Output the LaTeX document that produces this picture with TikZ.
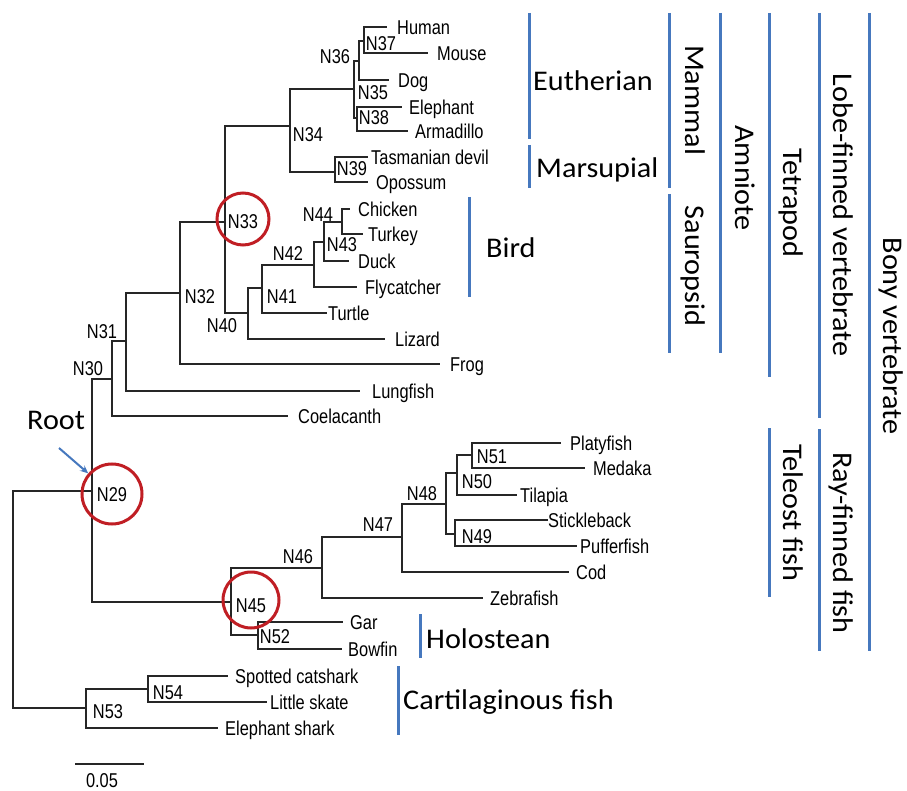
\documentclass[tikz,border=0pt]{standalone}
\usepackage{fontspec}
\usepackage{xcolor}
\usepackage{tikz}
\usetikzlibrary{arrows.meta}
\newfontfamily\leaffont[FakeStretch=0.82]{Liberation Sans}
\newfontfamily\cladefont[FakeStretch=1.06]{Carlito}
\definecolor{cladeblue}{RGB}{70,120,190}
\definecolor{hlred}{RGB}{192,30,36}

\begin{document}
\begin{tikzpicture}[x=1pt, y=-1pt,
    branch/.style={line width=1.2pt, draw=black!85},
    leaf/.style={anchor=west, inner sep=0pt, inner xsep=7pt, text height=14.3pt, text depth=0pt,
        font=\leaffont\fontsize{20}{22}\selectfont},
    nlab/.style={inner sep=0pt, text height=14.3pt, text depth=0pt, font=\leaffont\fontsize{20}{22}\selectfont},
    clade/.style={anchor=west, inner sep=0pt, text height=18.4pt, text depth=0pt,
        font=\cladefont\fontsize{28.5}{30}\selectfont},
    vclade/.style={clade, anchor=center, rotate=-90},
    bar/.style={line width=3pt, draw=cladeblue},
    hl/.style={circle, draw=hlred, line width=3pt, inner sep=0pt}]

    \useasboundingbox (0,0) rectangle (907,791);

    % internal nodes
    \coordinate (n0) at (13,600);
    \coordinate (n29) at (92,491);
    \coordinate (n30) at (112,379);
    \coordinate (n31) at (126,341);
    \coordinate (n32) at (180,293);
    \coordinate (n33) at (225,222);
    \coordinate (n34) at (290,126);
    \coordinate (n36) at (354,89);
    \coordinate (n35) at (359,61);
    \coordinate (n37) at (364,41);
    \coordinate (n38) at (357,118);
    \coordinate (n39) at (335,172);
    \coordinate (n40) at (248,313);
    \coordinate (n41) at (262,288);
    \coordinate (n42) at (314,265);
    \coordinate (n43) at (324,242);
    \coordinate (n44) at (342,222);
    \coordinate (n45) at (231,602);
    \coordinate (n46) at (322,568);
    \coordinate (n47) at (402,537);
    \coordinate (n48) at (446,504);
    \coordinate (n50) at (457,473);
    \coordinate (n51) at (472,455);
    \coordinate (n49) at (455,534);
    \coordinate (n52) at (258,635);
    \coordinate (n53) at (86,708);
    \coordinate (n54) at (148,689);

    % leaves
    \node [leaf, inner xsep=10pt] (human) at (387,27) {Human};
    \node [leaf, inner xsep=9pt] (mouse) at (428,53) {Mouse};
    \node [leaf, inner xsep=9pt] (dog) at (389,80) {Dog};
    \node [leaf] (elephant) at (402,107) {Elephant};
    \node [leaf] (armadillo) at (408,131) {Armadillo};
    \node [leaf, inner xsep=3pt] (devil) at (368,157) {Tasmanian devil};
    \node [leaf, inner xsep=8pt] (opossum) at (368,182) {Opossum};
    \node [leaf, inner xsep=8pt] (chicken) at (350,209) {Chicken};
    \node [leaf, inner xsep=5pt] (turkey) at (363,234) {Turkey};
    \node [leaf, inner xsep=9pt] (duck) at (349,261) {Duck};
    \node [leaf, inner xsep=8pt] (flycatcher) at (357,287) {Flycatcher};
    \node [leaf, inner xsep=1pt] (turtle) at (327,313) {Turtle};
    \node [leaf, inner xsep=10pt] (lizard) at (385,339) {Lizard};
    \node [leaf, inner xsep=10pt] (frog) at (440,364) {Frog};
    \node [leaf, inner xsep=12pt] (lungfish) at (360,391) {Lungfish};
    \node [leaf, inner xsep=10pt] (coelacanth) at (288,416) {Coelacanth};
    \node [leaf, inner xsep=9pt] (platyfish) at (561,443) {Platyfish};
    \node [leaf, inner xsep=8pt] (medaka) at (585,468) {Medaka};
    \node [leaf, inner xsep=3pt] (tilapia) at (517,495) {Tilapia};
    \node [leaf, inner xsep=0pt] (stickleback) at (548,520) {Stickleback};
    \node [leaf, inner xsep=3pt] (pufferfish) at (577,546) {Pufferfish};
    \node [leaf] (cod) at (569,572) {Cod};
    \node [leaf] (zebrafish) at (483,598) {Zebrafish};
    \node [leaf] (gar) at (343,622) {Gar};
    \node [leaf, inner xsep=6pt] (bowfin) at (342,649) {Bowfin};
    \node [leaf] (catshark) at (228,676) {Spotted catshark};
    \node [leaf, inner xsep=3pt] (skate) at (267,702) {Little skate};
    \node [leaf] (eshark) at (218,728) {Elephant shark};

    % branches
    \draw [branch] (n0) |- (n29);
    \draw [branch] (n0) |- (n53);
    \draw [branch] (n29) |- (n30);
    \draw [branch] (n29) |- (n45);
    \draw [branch] (n30) |- (n31);
    \draw [branch] (n30) |- (coelacanth.west);
    \draw [branch] (n31) |- (n32);
    \draw [branch] (n31) |- (lungfish.west);
    \draw [branch] (n32) |- (n33);
    \draw [branch] (n32) |- (frog.west);
    \draw [branch] (n33) |- (n34);
    \draw [branch] (n33) |- (n40);
    \draw [branch] (n34) |- (n36);
    \draw [branch] (n34) |- (n39);
    \draw [branch] (n36) |- (n35);
    \draw [branch] (n36) |- (n38);
    \draw [branch] (n35) |- (n37);
    \draw [branch] (n35) |- (dog.west);
    \draw [branch] (n37) |- (human.west);
    \draw [branch] (n37) |- (mouse.west);
    \draw [branch] (n38) |- (elephant.west);
    \draw [branch] (n38) |- (armadillo.west);
    \draw [branch] (n39) |- (devil.west);
    \draw [branch] (n39) |- (opossum.west);
    \draw [branch] (n40) |- (n41);
    \draw [branch] (n40) |- (lizard.west);
    \draw [branch] (n41) |- (n42);
    \draw [branch] (n41) |- (turtle.west);
    \draw [branch] (n42) |- (n43);
    \draw [branch] (n42) |- (flycatcher.west);
    \draw [branch] (n43) |- (n44);
    \draw [branch] (n43) |- (duck.west);
    \draw [branch] (n44) |- (chicken.west);
    \draw [branch] (n44) |- (turkey.west);
    \draw [branch] (n45) |- (n46);
    \draw [branch] (n45) |- (n52);
    \draw [branch] (n46) |- (n47);
    \draw [branch] (n46) |- (zebrafish.west);
    \draw [branch] (n47) |- (n48);
    \draw [branch] (n47) |- (cod.west);
    \draw [branch] (n48) |- (n50);
    \draw [branch] (n48) |- (n49);
    \draw [branch] (n50) |- (n51);
    \draw [branch] (n50) |- (tilapia.west);
    \draw [branch] (n51) |- (platyfish.west);
    \draw [branch] (n51) |- (medaka.west);
    \draw [branch] (n49) |- (stickleback.west);
    \draw [branch] (n49) |- (pufferfish.west);
    \draw [branch] (n52) |- (gar.west);
    \draw [branch] (n52) |- (bowfin.west);
    \draw [branch] (n53) |- (n54);
    \draw [branch] (n53) |- (eshark.west);
    \draw [branch] (n54) |- (catshark.west);
    \draw [branch] (n54) |- (skate.west);

    % node labels
    \node [nlab] (l29) at (112,494) {N29};
    \node [nlab] (l30) at (88,368) {N30};
    \node [nlab] (l31) at (102,331) {N31};
    \node [nlab] (l32) at (200,296) {N32};
    \node [nlab] (l33) at (243,221) {N33};
    \node [nlab] (l34) at (308,134) {N34};
    \node [nlab] (l35) at (373,92) {N35};
    \node [nlab] (l36) at (335,56) {N36};
    \node [nlab] (l37) at (381,43) {N37};
    \node [nlab] (l38) at (374,117) {N38};
    \node [nlab] (l39) at (352,168) {N39};
    \node [nlab] (l40) at (222,325) {N40};
    \node [nlab] (l41) at (282,296) {N41};
    \node [nlab] (l42) at (288,253) {N42};
    \node [nlab] (l43) at (342,244) {N43};
    \node [nlab] (l44) at (318,214) {N44};
    \node [nlab] (l45) at (251,605) {N45};
    \node [nlab] (l46) at (298,556) {N46};
    \node [nlab] (l47) at (378,524) {N47};
    \node [nlab] (l48) at (422,493) {N48};
    \node [nlab] (l49) at (477,536) {N49};
    \node [nlab] (l50) at (477,481) {N50};
    \node [nlab] (l51) at (492,456) {N51};
    \node [nlab] (l52) at (275,636) {N52};
    \node [nlab] (l53) at (108,711) {N53};
    \node [nlab] (l54) at (168,692) {N54};

    % highlighted nodes
    \node [hl, minimum size=52pt] (c33) at (243,219) {};
    \node [hl, minimum size=60pt] (c29) at (112,494) {};
    \node [hl, minimum size=56pt] (c45) at (251,600) {};

    \node [clade] (rootlab) at (27,420) {Root};
    \coordinate (tail) at (59,448);
    \draw [cladeblue, line width=2pt, -{Stealth[length=8pt,width=7pt]}] (tail) -- (c29);

    % scale bar
    \coordinate (sb1) at (75,764);
    \coordinate (sb2) at (144,764);
    \draw [branch] (sb1) -- (sb2);
    \node [nlab] (sblab) at (102,780) {0.05};

    % clades
    \draw [bar] (469,197) -- (469,297);
    \node [clade] (bird) at (486,248) {Bird};
    \draw [bar] (420,614) -- (420,658);
    \node [clade] (holostean) at (426,639) {Holostean};
    \draw [bar] (398,666) -- (398,735);
    \node [clade] (cartilag) at (403,700) {Cartilaginous fish};
    \draw [bar] (529,13) -- (529,139);
    \node [clade] (eutherian) at (533,81) {Eutherian};
    \draw [bar] (529,145) -- (529,188);
    \node [clade] (marsupial) at (536,168) {Marsupial};
    \draw [bar] (669,13) -- (669,188);
    \node [vclade] (mammal) at (695,100) {Mammal};
    \draw [bar] (669,194) -- (669,353);
    \node [vclade] (sauropsid) at (695,266) {Sauropsid};
    \draw [bar] (720,13) -- (720,353);
    \node [vclade] (amniote) at (745,178) {Amniote};
    \draw [bar] (769,13) -- (769,377);
    \node [vclade] (tetrapod) at (793,203) {Tetrapod};
    \draw [bar] (819,13) -- (819,418);
    \node [vclade] (lobefin) at (843,215) {Lobe-finned vertebrate};
    \draw [bar] (869,13) -- (869,651);
    \node [vclade] (bony) at (893,336) {Bony vertebrate};
    \draw [bar] (769,428) -- (769,597);
    \node [vclade] (teleost) at (793,513) {Teleost fish};
    \draw [bar] (819,429) -- (819,651);
    \node [vclade] (rayfin) at (843,543) {Ray-finned fish};
\end{tikzpicture}
\end{document}
